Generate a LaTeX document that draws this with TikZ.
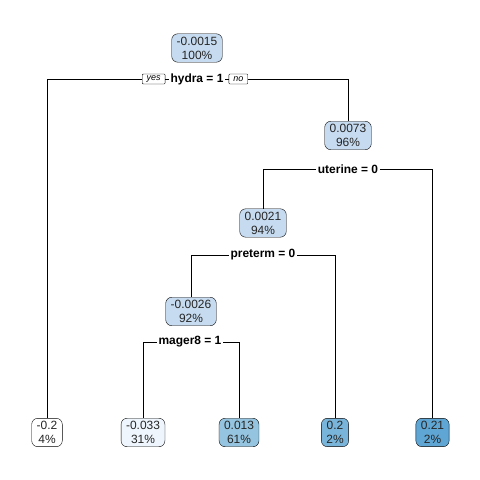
\documentclass[tikz,border=0pt]{standalone}
\usepackage{fontspec}
\setmainfont{Liberation Sans}
\definecolor{nodoint}{HTML}{C6DBEF}
\definecolor{foglia1}{HTML}{FFFFFF}
\definecolor{foglia2}{HTML}{EEF5FC}
\definecolor{foglia3}{HTML}{94C4DF}
\definecolor{foglia4}{HTML}{79B5DA}
\definecolor{foglia5}{HTML}{5FA6D5}
\begin{document}
\begin{tikzpicture}[
    x=1bp, y=-1bp,
    treenode/.style={
        rectangle,
        rounded corners=6bp,
        draw=black,
        fill=nodoint,
        align=center,
        inner xsep=5bp,
        inner ysep=3bp,
        font=\fontsize{12}{14}\selectfont,
        text=black!85
    },
    split/.style={
        fill=white,
        inner xsep=1.5bp,
        inner ysep=1bp,
        font=\fontsize{12}{14}\selectfont\bfseries
    },
    yesno/.style={
        rectangle,
        rounded corners=1bp,
        draw=black,
        fill=white,
        inner xsep=4.5bp,
        inner ysep=0pt,
        minimum height=10bp,
        font=\fontsize{9}{10}\selectfont\itshape
    },
    branch/.style={draw=black, line width=0.7bp}
]
    \useasboundingbox (0,0) rectangle (480,480);

    % Nodi interni
    \node[treenode] (root) at (197,48) {-0.0015\\100\%};
    \node[treenode] (nuter) at (348,135.5) {0.0073\\96\%};
    \node[treenode] (npret) at (263,223) {0.0021\\94\%};
    \node[treenode] (nmager) at (191,311.5) {-0.0026\\92\%};

    % Foglie
    \node[treenode, fill=foglia1] (leafa) at (47,432.5) {-0.2\\4\%};
    \node[treenode, fill=foglia2] (leafb) at (143,432.5) {-0.033\\31\%};
    \node[treenode, fill=foglia3] (leafc) at (239,432.5) {0.013\\61\%};
    \node[treenode, fill=foglia4] (leafd) at (335,432.5) {0.2\\2\%};
    \node[treenode, fill=foglia5] (leafe) at (432.5,432.5) {0.21\\2\%};

    % Etichette delle divisioni
    \node[split] (shydra) at (197,79) {hydra = 1};
    \node[yesno, anchor=east] (yes) at ([xshift=-3.5bp]shydra.west) {yes};
    \node[yesno, anchor=west] (no) at ([xshift=3.5bp]shydra.east) {no};
    \node[split] (suter) at (348,169) {uterine = 0};
    \node[split] (spret) at (263,255) {preterm = 0};
    \node[split] (smager) at (190,342) {mager8 = 1};

    % Rami
    \draw[branch] (yes.west) -| (leafa.north);
    \draw[branch] (yes.east) -- (shydra.west);
    \draw[branch] (shydra.east) -- (no.west);
    \draw[branch] (no.east) -| (nuter.north);
    \draw[branch] (suter.west) -| (npret.north);
    \draw[branch] (suter.east) -| (leafe.north);
    \draw[branch] (spret.west) -| (nmager.north);
    \draw[branch] (spret.east) -| (leafd.north);
    \draw[branch] (smager.west) -| (leafb.north);
    \draw[branch] (smager.east) -| (leafc.north);
\end{tikzpicture}
\end{document}
